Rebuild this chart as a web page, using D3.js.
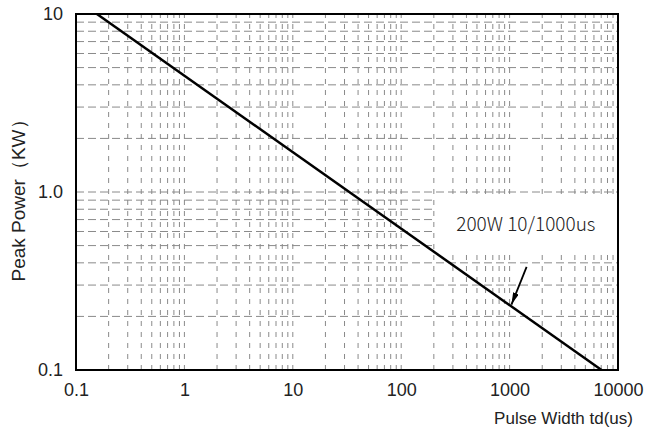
<!DOCTYPE html>
<html>
<head>
<meta charset="utf-8">
<script src="https://cdn.jsdelivr.net/npm/d3@7"></script>
<style>
  body { margin: 0; background: #fff; }
  svg { display: block; }
</style>
</head>
<body>
<svg width="646" height="432"></svg>
<script>
// значения
const xDomain = [0.1, 10000];
const yDomain = [0.1, 10];
const xTicks = [0.1, 1, 10, 100, 1000, 10000];
const xTickLabels = ["0.1", "1", "10", "100", "1000", "10000"];
const yTicks = [0.1, 1, 10];
const yTickLabels = ["0.1", "1.0", "10"];
const minorSteps = [1, 2, 3, 4, 5, 6, 7, 8, 9];

// кривая 200W 10/1000us: [td, kW]
const curve = [[0.156, 10], [7050, 0.1]];
// стрелка подписи: от хвоста к острию
const arrowPts = [[1435, 0.38], [1040, 0.233]];
// белая плашка с подписью
const labelBox = { x0: 208, x1: 10000, y0: 0.975, y1: 0.46 };
const labelText = "200W 10/1000us";

const svg = d3.select("svg");
const area = { left: 76, right: 618, top: 14, bottom: 370 };

const scX = d3.scaleLog().domain(xDomain).range([area.left, area.right]);
const scY = d3.scaleLog().domain(yDomain).range([area.bottom, area.top]);

// значения сетки по декадам
function gridValues(domain) {
  let vals = [];
  for (let e = Math.round(Math.log10(domain[0])); e < Math.round(Math.log10(domain[1])); e++) {
    for (let m of minorSteps) vals.push(m * Math.pow(10, e));
  }
  return vals.filter(v => v > domain[0] * 1.0001);
}

const grid = svg.append("g");
grid.selectAll(".vx")
  .data(gridValues(xDomain).filter(v => v < xDomain[1] * 0.999))
  .enter()
  .append("line")
  .attr("x1", d => scX(d)).attr("x2", d => scX(d))
  .attr("y1", area.bottom).attr("y2", area.top)
  .attr("stroke", "#8a8a8a")
  .attr("stroke-width", 1)
  .attr("stroke-dasharray", "5,6");

grid.selectAll(".hy")
  .data(gridValues(yDomain).filter(v => v < yDomain[1] * 0.999))
  .enter()
  .append("line")
  .attr("x1", area.left).attr("x2", area.right)
  .attr("y1", d => scY(d)).attr("y2", d => scY(d))
  .attr("stroke", "#8a8a8a")
  .attr("stroke-width", 1)
  .attr("stroke-dasharray", "8,4");

// плашка
svg.append("rect")
  .attr("x", scX(labelBox.x0))
  .attr("y", scY(labelBox.y0))
  .attr("width", scX(labelBox.x1) - scX(labelBox.x0))
  .attr("height", scY(labelBox.y1) - scY(labelBox.y0))
  .attr("fill", "#fff");

svg.append("text")
  .attr("x", (scX(labelBox.x0) + scX(labelBox.x1)) / 2 - 1)
  .attr("y", (scY(labelBox.y0) + scY(labelBox.y1)) / 2 + 8)
  .attr("text-anchor", "middle")
  .style("font-family", "'Noto Sans CJK SC', 'Noto Sans', sans-serif")
  .style("font-size", "19px")
  .style("font-weight", 300)
  .style("fill", "#222")
  .text(labelText);

// кривая
const line = d3.line().x(d => scX(d[0])).y(d => scY(d[1]));
svg.append("path")
  .datum(curve)
  .attr("d", line)
  .attr("fill", "none")
  .attr("stroke", "#000")
  .attr("stroke-width", 2.5);

// стрелка
svg.append("defs").append("marker")
  .attr("id", "arr")
  .attr("viewBox", "0 0 12 6")
  .attr("refX", 12).attr("refY", 3)
  .attr("markerWidth", 12).attr("markerHeight", 6)
  .attr("markerUnits", "userSpaceOnUse")
  .attr("orient", "auto")
  .append("path")
  .attr("d", "M0,0 L12,3 L0,6 Z")
  .attr("fill", "#000");

svg.append("path")
  .datum(arrowPts)
  .attr("d", line)
  .attr("fill", "none")
  .attr("stroke", "#000")
  .attr("stroke-width", 1.8)
  .attr("marker-end", "url(#arr)");

// рамка
svg.append("rect")
  .attr("x", area.left).attr("y", area.top)
  .attr("width", area.right - area.left)
  .attr("height", area.bottom - area.top)
  .attr("fill", "none")
  .attr("stroke", "#000")
  .attr("stroke-width", 2);

// оси
const axisX = d3.axisBottom(scX)
  .tickValues(xTicks)
  .tickSize(0)
  .tickPadding(13)
  .tickFormat((d, i) => xTickLabels[i]);
const gx = svg.append("g")
  .attr("transform", `translate(0, ${area.bottom})`)
  .call(axisX);
gx.select(".domain").remove();
gx.selectAll("text")
  .style("font-family", "'Liberation Sans', Arial, sans-serif")
  .style("font-size", "18px")
  .style("fill", "#222");

const axisY = d3.axisLeft(scY)
  .tickValues(yTicks)
  .tickSize(0)
  .tickPadding(13)
  .tickFormat((d, i) => yTickLabels[i]);
const gy = svg.append("g")
  .attr("transform", `translate(${area.left}, 0)`)
  .call(axisY);
gy.select(".domain").remove();
gy.selectAll("text")
  .style("font-family", "'Liberation Sans', Arial, sans-serif")
  .style("font-size", "18px")
  .style("fill", "#222");

// подписи осей
svg.append("text")
  .attr("x", 633)
  .attr("y", 424)
  .attr("text-anchor", "end")
  .style("font-family", "'Liberation Sans', Arial, sans-serif")
  .style("font-size", "17px")
  .style("fill", "#222")
  .text("Pulse Width td(us)");

svg.append("text")
  .attr("transform", "translate(25, 196) rotate(-90)")
  .attr("text-anchor", "middle")
  .style("font-family", "'Liberation Sans', Arial, sans-serif")
  .style("font-size", "19px")
  .style("fill", "#222")
  .text("Peak Power（KW）");
</script>
</body>
</html>
